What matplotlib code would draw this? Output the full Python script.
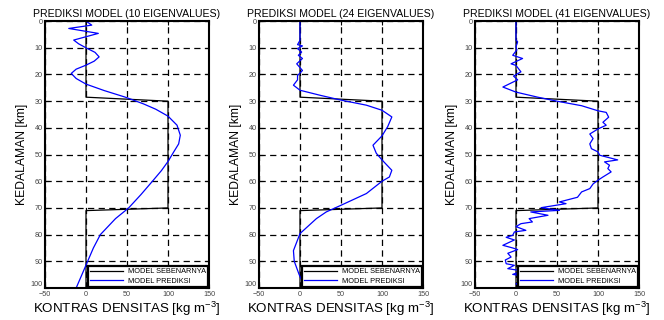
import matplotlib
matplotlib.use('Agg')
import matplotlib.pyplot as plt

plt.rcParams['font.family'] = ['Liberation Sans', 'DejaVu Sans']

# model sebenarnya (true model), same for all panels
true_depth = [0, 28.5, 30, 70, 71, 100]
true_dens = [0, 0, 100, 100, 0, 0]

# prediksi 10 eigenvalues
depth_10 = [0, 1.5, 2.75, 4.6, 7.1, 8.5, 10, 11.7, 13.4, 15, 16.5, 18, 19.6, 21.5, 23.6,
            26, 28.5, 31, 33, 35.6, 39, 42.75, 46, 49, 52.6, 56, 60, 65, 70, 74, 80, 85, 90, 95, 100]
dens_10 = [0, 7, -21, 15, -15, -9, 0, 11, 16, 10, 0, -12, -18, -12, 0,
           22, 48, 70, 85, 100, 111, 115, 113, 107, 100, 92, 81, 67, 52, 36, 17.5, 9, 2, -5, -12]

# prediksi 24 eigenvalues
depth_24 = [0, 7.2, 8.8, 9.3, 10.3, 11.6, 12.8, 14, 16, 18.5, 20.4, 22, 24, 25.9, 27.75, 29.6,
            31.5, 33.4, 35.9, 39.5, 43, 46.5, 49.5, 52, 55.9, 58.4, 60, 64.6, 69, 71.5, 74,
            79.6, 86, 90, 95, 100]
dens_24 = [0, 0, -3, 3, -3, 2, -2, 3, -4, 3, -3, -3, -8, 0, 24, 50,
           81, 100, 112, 107, 100, 89, 93, 100, 112, 109, 100, 81, 50, 32, 20,
           0, -8, -7, -1, 6.5]

# prediksi 41 eigenvalues
depth_41 = [0, 7.1, 7.75, 9.6, 10.8, 12.8, 14, 16, 16.6, 19, 20.6, 22, 23.5, 24.7, 26.6, 28.5,
            30, 31.7, 33.6, 34.2, 36, 37.9, 39, 40.4, 42.3, 44, 46, 47.8, 49, 50.25, 52,
            52.75, 54, 55.25, 56.5, 58.4, 59.6, 61, 62.75, 64, 66, 67.75, 68.4, 69.9, 70.9,
            71.5, 72.75, 74, 75.25, 75.9, 77, 78.4, 79, 80.25, 81, 82, 84, 85, 85.6, 87,
            88.4, 89.5, 90.9, 91.5, 92.75, 93.6, 94.9, 95.6, 96.9, 97.75, 98.4, 99.6]
dens_41 = [0, 0, 2, 0, 1, -4, 8, -6, 0, 6, -3, 2, -8, -16, 0, 26.5,
           50, 80, 100, 110, 113, 106, 110, 100, 90, 94, 90, 92, 100, 102, 124,
           108, 114, 112, 116, 106, 100, 94, 90, 80, 75, 53, 61, 30.6, 53,
           18, 39, 16, 20, 6, 0, 12, -2, -4, -12, -2, -16, -4, 2, -10,
           -6, -13, -12, -2, -10, 8, -4, 10, 2, 8, 0, 6]

titles = ['PREDIKSI MODEL (10 EIGENVALUES)', 'PREDIKSI MODEL (24 EIGENVALUES)',
          'PREDIKSI MODEL (41 EIGENVALUES)']
xticks = [-50, 0, 50, 100, 150]
yticks = [0, 10, 20, 30, 40, 50, 60, 70, 80, 90, 100]

fig = plt.figure(figsize=(6.64, 3.2), dpi=100)
lefts = [45 / 664, 259 / 664, 475 / 664]
series = [(depth_10, dens_10), (depth_24, dens_24), (depth_41, dens_41)]

for left, title, (dep, dens) in zip(lefts, titles, series):
    ax = fig.add_axes([left, 0.1, 164 / 664, 0.834])
    ax.plot(true_dens, true_depth, color='k', lw=0.9, label='MODEL SEBENARNYA')
    ax.plot(dens, dep, color='#0000ff', lw=0.9, label='MODEL PREDIKSI')
    ax.set_xlim(-50, 150)
    ax.set_ylim(100, 0)
    ax.set_xticks(xticks)
    ax.set_yticks(yticks)
    ax.grid(True, color='k', lw=0.9, linestyle=(0, (5, 3.5)))
    ax.tick_params(direction='in', top=True, right=True, labelsize=5.2, length=3,
                   width=0.8)
    ax.tick_params(axis='x', pad=2.5)
    ax.tick_params(axis='y', pad=1.5)
    for lab in ax.get_xticklabels() + ax.get_yticklabels():
        lab.set_color('#444444')
    # nudge the corner label so "100" and "-50" do not collide
    ax.get_yticklabels()[-1].set_va('bottom')
    for sp in ax.spines.values():
        sp.set_linewidth(1.5)
    ax.set_title(title, fontsize=7.6, pad=3)
    ax.set_xlabel('KONTRAS DENSITAS [kg m$^{\\mathregular{-3}}$]', fontsize=9.6, labelpad=1)
    ax.set_ylabel('KEDALAMAN [km]', fontsize=8.7, labelpad=2)
    leg = ax.legend(loc='lower right', fontsize=5.3, fancybox=False, framealpha=1,
                    borderpad=0.3, handlelength=4.5, labelspacing=0.3,
                    borderaxespad=0.15, handletextpad=0.6)
    leg.get_frame().set_edgecolor('k')
    leg.get_frame().set_linewidth(1.6)

fig.savefig('out.png', dpi=100)
